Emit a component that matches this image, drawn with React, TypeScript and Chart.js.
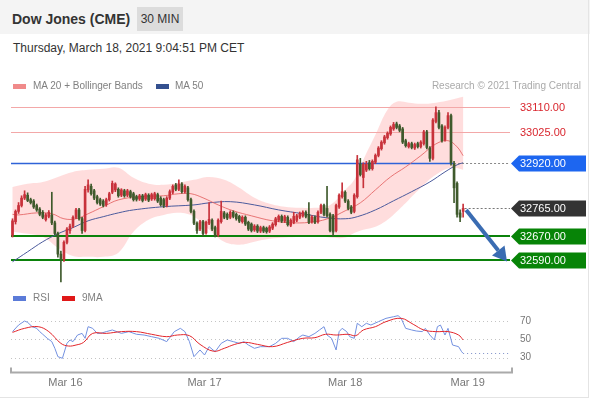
import React, { useEffect, useRef } from 'react';
import { Chart, registerables } from 'chart.js';

Chart.register(...registerables);

const FONT = '"Liberation Sans", Arial, Helvetica, sans-serif';

// 30-minute candles: [open, high, low, close]
const ohlc: [number, number, number, number][] = [
  [32675, 32730, 32668, 32723], [32720, 32760, 32712, 32755], [32755, 32785, 32748, 32775], [32775, 32808, 32770, 32800],
  [32800, 32825, 32795, 32812], [32810, 32818, 32788, 32792], [32795, 32800, 32780, 32785], [32790, 32795, 32765, 32770],
  [32775, 32780, 32755, 32760], [32763, 32768, 32740, 32745], [32752, 32758, 32730, 32735], [32727, 32748, 32722, 32743],
  [32738, 32758, 32733, 32752], [32743, 32820, 32710, 32716], [32716, 32722, 32675, 32680], [32680, 32685, 32600, 32610],
  [32610, 32620, 32516, 32595], [32592, 32655, 32585, 32650], [32650, 32700, 32645, 32695], [32690, 32712, 32680, 32705],
  [32705, 32740, 32700, 32735], [32735, 32765, 32730, 32760], [32760, 32765, 32725, 32730], [32730, 32735, 32680, 32690],
  [32690, 32840, 32685, 32830], [32828, 32862, 32820, 32845], [32840, 32848, 32810, 32815], [32825, 32830, 32795, 32800],
  [32805, 32810, 32780, 32785], [32795, 32800, 32775, 32780], [32790, 32795, 32770, 32775], [32778, 32800, 32772, 32795],
  [32795, 32820, 32790, 32815], [32820, 32858, 32815, 32850], [32828, 32852, 32822, 32848], [32830, 32835, 32803, 32808],
  [32810, 32832, 32805, 32828], [32825, 32830, 32803, 32808], [32810, 32830, 32805, 32825], [32822, 32827, 32800, 32805],
  [32815, 32820, 32790, 32795], [32805, 32810, 32790, 32796], [32797, 32813, 32792, 32808], [32808, 32813, 32787, 32792],
  [32797, 32817, 32792, 32812], [32810, 32815, 32788, 32793], [32797, 32817, 32792, 32812], [32798, 32820, 32793, 32815],
  [32812, 32817, 32785, 32790], [32800, 32805, 32773, 32778], [32795, 32800, 32768, 32775], [32775, 32805, 32770, 32800],
  [32800, 32828, 32795, 32822], [32820, 32845, 32815, 32840], [32845, 32850, 32825, 32830], [32830, 32862, 32825, 32848],
  [32848, 32853, 32817, 32822], [32822, 32845, 32817, 32840], [32835, 32840, 32790, 32795], [32795, 32800, 32750, 32755],
  [32755, 32760, 32710, 32715], [32715, 32720, 32680, 32690], [32695, 32725, 32690, 32720], [32720, 32725, 32672, 32680],
  [32682, 32722, 32678, 32718], [32715, 32785, 32710, 32728], [32725, 32730, 32690, 32695], [32700, 32705, 32668, 32672],
  [32675, 32730, 32670, 32725], [32720, 32790, 32715, 32755], [32750, 32755, 32730, 32735], [32745, 32750, 32727, 32732],
  [32735, 32757, 32730, 32752], [32752, 32757, 32733, 32738], [32745, 32750, 32725, 32730], [32738, 32742, 32717, 32722],
  [32720, 32740, 32715, 32735], [32735, 32740, 32707, 32712], [32718, 32722, 32690, 32695], [32712, 32716, 32685, 32690],
  [32692, 32710, 32687, 32705], [32705, 32710, 32683, 32688], [32688, 32705, 32683, 32700], [32700, 32705, 32683, 32688],
  [32698, 32702, 32681, 32686], [32688, 32707, 32683, 32702], [32698, 32717, 32693, 32712], [32710, 32735, 32705, 32730],
  [32725, 32743, 32720, 32738], [32738, 32743, 32717, 32722], [32722, 32742, 32717, 32737], [32735, 32740, 32705, 32710],
  [32708, 32730, 32703, 32725], [32718, 32752, 32713, 32738], [32725, 32745, 32720, 32740], [32735, 32753, 32730, 32748],
  [32740, 32757, 32735, 32752], [32752, 32757, 32733, 32738], [32745, 32785, 32713, 32718], [32720, 32741, 32715, 32736],
  [32735, 32740, 32713, 32718], [32720, 32757, 32715, 32752], [32752, 32780, 32747, 32775], [32775, 32780, 32740, 32745],
  [32765, 32840, 32735, 32740], [32745, 32750, 32685, 32690], [32740, 32745, 32672, 32685], [32690, 32780, 32685, 32775],
  [32770, 32815, 32765, 32810], [32805, 32852, 32800, 32822], [32820, 32825, 32785, 32790], [32790, 32795, 32760, 32765],
  [32770, 32775, 32747, 32752], [32755, 32815, 32750, 32810], [32805, 32945, 32800, 32930], [32915, 32935, 32875, 32880],
  [32870, 32920, 32835, 32915], [32895, 32925, 32890, 32915], [32920, 32928, 32895, 32900], [32900, 32930, 32895, 32925],
  [32922, 32950, 32917, 32945], [32945, 32975, 32940, 32970], [32968, 32995, 32963, 32990], [32988, 33013, 32983, 33008],
  [33005, 33025, 33000, 33020], [33018, 33045, 33013, 33040], [33035, 33057, 33030, 33050], [33052, 33058, 33035, 33040],
  [33045, 33050, 33025, 33030], [33035, 33040, 32985, 32990], [32995, 33000, 32973, 32978], [32975, 32990, 32970, 32985],
  [32985, 32990, 32967, 32972], [32970, 32987, 32965, 32982], [32985, 32990, 32970, 32975], [32975, 32995, 32970, 32990],
  [32985, 33030, 32980, 33025], [33025, 33030, 32967, 32972], [32970, 32975, 32925, 32935], [32935, 33070, 32930, 33065],
  [33060, 33110, 33055, 33090], [33090, 33098, 33035, 33040], [33045, 33050, 32990, 32995], [32998, 33045, 32993, 33040],
  [33040, 33090, 33035, 33080], [33080, 33085, 32912, 32920], [32915, 32925, 32785, 32835], [32850, 32855, 32735, 32745],
  [32750, 32760, 32720, 32735], [32755, 32780, 32735, 32765],
];

// indicator points: [candle index, value]
const ma20: [number, number][] = [
  [0, 32745], [2, 32743], [8, 32750], [13, 32747], [17, 32730], [21, 32730], [25, 32747], [30, 32771], [35, 32794],
  [42, 32805], [50, 32808], [55, 32815], [59, 32815], [63, 32801], [68, 32777], [73, 32757], [79, 32740], [86, 32723],
  [93, 32716], [100, 32720], [105, 32733], [110, 32757], [115, 32784], [120, 32828], [125, 32872], [130, 32906],
  [135, 32944], [140, 32984], [144, 32995], [147, 32974], [149, 32944],
];
const ma50: [number, number][] = [
  [0, 32584], [5, 32618], [10, 32652], [15, 32679], [20, 32700], [25, 32723], [30, 32737], [35, 32750], [40, 32760],
  [50, 32771], [60, 32777], [65, 32784], [72, 32788], [80, 32777], [88, 32760], [96, 32747], [104, 32733], [110, 32730],
  [114, 32737], [120, 32760], [126, 32791], [132, 32822], [138, 32855], [143, 32889], [147, 32913], [149, 32920],
];
const bbUpper: [number, number][] = [
  [0, 32838], [5, 32849], [10, 32855], [15, 32872], [20, 32889], [25, 32896], [30, 32900], [35, 32903], [40, 32869],
  [45, 32849], [50, 32845], [55, 32852], [60, 32862], [65, 32872], [70, 32862], [75, 32835], [80, 32801], [85, 32781],
  [90, 32771], [95, 32767], [100, 32767], [105, 32777], [110, 32828], [113, 32862], [116, 32930], [120, 33015],
  [124, 33100], [127, 33127], [131, 33124], [135, 33120], [140, 33124], [145, 33134], [149, 33144],
];
const bbLower: [number, number][] = [
  [0, 32686], [5, 32679], [10, 32669], [15, 32632], [20, 32604], [25, 32601], [30, 32601], [35, 32615], [40, 32686],
  [45, 32727], [50, 32743], [55, 32750], [60, 32737], [65, 32693], [70, 32652], [75, 32642], [80, 32652], [85, 32662],
  [90, 32666], [95, 32669], [100, 32672], [105, 32666], [110, 32666], [113, 32682], [116, 32693], [120, 32703],
  [124, 32727], [127, 32754], [131, 32794], [135, 32835], [140, 32879], [145, 32903], [149, 32896],
];
const rsi: [number, number][] = [
  [0, 58.4], [2, 65.6], [4, 70], [5, 68.5], [6.5, 63.8], [8, 62], [9, 58.4], [10, 55.5], [11.5, 51.1], [13, 47.5],
  [14, 40.2], [15, 31.1], [16.5, 29.3], [18, 45.6], [19, 49.3], [20, 47.5], [21.5, 54.7], [23, 56.5], [24, 51.1],
  [25, 63.8], [26.5, 62], [28, 56.5], [29, 56.5], [31, 58.4], [33, 60.2], [36, 56.5], [38.5, 58.4], [41, 55.5],
  [43.5, 54.7], [46, 52.9], [48.5, 51.1], [51, 47.5], [53.5, 58.4], [55.5, 62], [57, 58.4], [58.5, 47.5], [60, 31.1],
  [62, 38.4], [63.5, 32.9], [65, 42], [67, 36.5], [69, 45.6], [71, 49.3], [73, 47.5], [75, 45.6], [76.5, 47.5],
  [78, 43.8], [80, 40.2], [82, 42], [85, 42], [87, 45.6], [89, 51.1], [91, 51.1], [93, 47.5], [95, 52.9], [96, 54.7],
  [98, 52.9], [100, 56.5], [101.5, 60.2], [103, 63.8], [104, 54.7], [105.5, 51.1], [107, 38.4], [108, 58.4], [109, 62],
  [110.5, 58.4], [111.5, 52.9], [113, 51.1], [114, 67.5], [115.5, 63.8], [117, 67.5], [118.5, 65.6], [121, 69.3],
  [123.5, 72.9], [126, 74.7], [127.5, 75.8], [128.5, 72.9], [130, 62], [132, 60.2], [133.5, 59.1], [135.5, 58.4],
  [136.5, 62], [138, 54.7], [139.5, 49.3], [140.5, 63.8], [141.5, 65.6], [143, 54.7], [144, 62], [145.5, 43.8],
  [147.5, 42], [148.5, 36.5], [149, 34.7],
];
const rsi9ma: [number, number][] = [
  [0, 57.6], [4, 62], [8.5, 63.8], [12, 58.4], [16, 45.6], [18.5, 42.7], [21, 43.8], [23.5, 46.7], [26.5, 56.5],
  [31, 56.5], [36, 58.4], [41, 58.4], [46, 55.5], [51, 52.9], [54.5, 54.7], [58.5, 54], [62, 44.5], [66.5, 37],
  [70, 40.2], [73.5, 44.5], [77, 46.7], [81, 44.5], [86, 42], [91, 46.7], [96, 51.1], [100, 51.8], [103.5, 55.5],
  [107, 54.7], [111, 55.5], [113.5, 54], [116, 60.2], [120, 63.8], [123.5, 69.3], [128.5, 72.9], [132.5, 66.4],
  [136, 60.2], [140, 58.4], [144, 58.4], [147.5, 54.7], [149, 49.3],
];

const rsiLevels = [70, 50, 30];
const dayLabels = ['Mar 16', 'Mar 17', 'Mar 18', 'Mar 19'];
const dayPositions = [17.5, 63.5, 110, 150.5];
const levelPrices = [33110, 33025, 32920, 32765, 32670, 32590];
const levelKinds = ['resistance', 'resistance', 'pivot', 'last', 'support', 'support'];
const pivotSolidEnd = 146; // index where the pivot line turns dotted
const arrowFrom: [number, number] = [150, 32760];
const arrowTo: [number, number] = [163.5, 32585];
const slotCount = 165;

const UP = '#c8323b';
const DOWN = '#3f5a2c';
const BAND_FILL = 'rgba(255,95,95,0.21)';

const toPts = (arr: [number, number][]) => arr.map(([x, y]) => ({ x, y }));

function MainChart() {
  const ref = useRef<HTMLCanvasElement>(null);
  useEffect(() => {
    const colors = ohlc.map(([o, , , c]) => (c >= o ? UP : DOWN));
    const bandPlugin = {
      id: 'band',
      beforeDatasetsDraw(chart: any) {
        const { ctx, chartArea } = chart;
        const upL = chart.getDatasetMeta(4).dataset;
        const loL = chart.getDatasetMeta(5).dataset;
        if (!upL || !loL) return;
        upL.updateControlPoints(chartArea, 'x');
        loL.updateControlPoints(chartArea, 'x');
        const up = upL.points, lo = loL.points;
        ctx.save();
        ctx.fillStyle = BAND_FILL;
        ctx.beginPath();
        ctx.moveTo(up[0].x, up[0].y);
        for (let i = 1; i < up.length; i++) {
          ctx.bezierCurveTo(up[i - 1].cp2x, up[i - 1].cp2y, up[i].cp1x, up[i].cp1y, up[i].x, up[i].y);
        }
        ctx.lineTo(lo[lo.length - 1].x, lo[lo.length - 1].y);
        for (let i = lo.length - 1; i > 0; i--) {
          ctx.bezierCurveTo(lo[i].cp1x, lo[i].cp1y, lo[i - 1].cp2x, lo[i - 1].cp2y, lo[i - 1].x, lo[i - 1].y);
        }
        ctx.closePath();
        ctx.fill();
        ctx.restore();
      },
    };
    const levelPlugin = {
      id: 'levels',
      beforeDatasetsDraw(chart: any) {
        const { ctx, chartArea: a, scales } = chart;
        const x = scales.x, y = scales.y;
        ctx.save();
        levelPrices.forEach((p, k) => {
          const kind = levelKinds[k];
          const py = Math.round(y.getPixelForValue(p)) + (kind === 'support' ? 0 : 0.5);
          ctx.setLineDash([]);
          if (kind === 'resistance') {
            ctx.strokeStyle = '#f3a8a8'; ctx.lineWidth = 1;
            ctx.beginPath(); ctx.moveTo(a.left, py); ctx.lineTo(a.right, py); ctx.stroke();
          } else if (kind === 'pivot') {
            const xe = x.getPixelForValue(pivotSolidEnd);
            ctx.strokeStyle = '#2f63d8'; ctx.lineWidth = 1.3;
            ctx.beginPath(); ctx.moveTo(a.left, py); ctx.lineTo(xe, py); ctx.stroke();
            ctx.strokeStyle = '#888'; ctx.lineWidth = 1; ctx.setLineDash([2, 2]);
            ctx.beginPath(); ctx.moveTo(xe, py); ctx.lineTo(a.right, py); ctx.stroke();
          } else if (kind === 'last') {
            const xs = x.getPixelForValue(ohlc.length - 0.5);
            ctx.strokeStyle = '#777'; ctx.lineWidth = 1; ctx.setLineDash([2, 2]);
            ctx.beginPath(); ctx.moveTo(xs, py); ctx.lineTo(a.right, py); ctx.stroke();
          } else {
            ctx.strokeStyle = '#0b820b'; ctx.lineWidth = 2;
            ctx.beginPath(); ctx.moveTo(a.left, py); ctx.lineTo(a.right, py); ctx.stroke();
          }
        });
        ctx.restore();
      },
      afterDatasetsDraw(chart: any) {
        const { ctx, chartArea: a, scales } = chart;
        const x = scales.x, y = scales.y;
        ctx.save();
        const x0 = x.getPixelForValue(arrowFrom[0]), y0 = y.getPixelForValue(arrowFrom[1]);
        const x1 = x.getPixelForValue(arrowTo[0]), y1 = y.getPixelForValue(arrowTo[1]);
        const ang = Math.atan2(y1 - y0, x1 - x0);
        const hl = 14, hw = 8;
        const bx = x1 - hl * Math.cos(ang), by = y1 - hl * Math.sin(ang);
        ctx.strokeStyle = '#3a6cb2'; ctx.fillStyle = '#3a6cb2'; ctx.lineWidth = 4;
        ctx.beginPath(); ctx.moveTo(x0, y0); ctx.lineTo(bx, by); ctx.stroke();
        ctx.beginPath();
        ctx.moveTo(x1, y1);
        ctx.lineTo(bx + hw * Math.sin(ang), by - hw * Math.cos(ang));
        ctx.lineTo(bx - hw * Math.sin(ang), by + hw * Math.cos(ang));
        ctx.closePath(); ctx.fill();
        ctx.font = `11px ${FONT}`;
        ctx.textBaseline = 'middle';
        ctx.textAlign = 'left';
        levelPrices.forEach((p, k) => {
          const kind = levelKinds[k];
          const py = Math.round(y.getPixelForValue(p)) + 0.5;
          const text = p.toFixed(2);
          if (kind === 'resistance') {
            ctx.fillStyle = '#d9262e';
            ctx.fillText(text, a.right + 10, py);
          } else {
            ctx.fillStyle = kind === 'pivot' ? '#1d66f0' : kind === 'last' ? '#333333' : '#078407';
            ctx.beginPath();
            ctx.moveTo(a.right + 1, py);
            ctx.lineTo(a.right + 9, py - 8);
            ctx.lineTo(586, py - 8);
            ctx.lineTo(586, py + 8);
            ctx.lineTo(a.right + 9, py + 8);
            ctx.closePath(); ctx.fill();
            ctx.fillStyle = '#ffffff';
            ctx.fillText(text, a.right + 10, py + 0.5);
          }
        });
        ctx.restore();
      },
    };
    const chart = new Chart(ref.current as HTMLCanvasElement, {
      type: 'bar',
      data: {
        datasets: [
          {
            type: 'bar', data: ohlc.map(([, h, l], i) => ({ x: i, y: [l, h] })) as any,
            backgroundColor: colors, barThickness: 1, grouped: false, order: 1, borderWidth: 0,
          } as any,
          {
            type: 'bar', data: ohlc.map(([o, , , c], i) => ({ x: i, y: [o, c] })) as any,
            backgroundColor: colors, barThickness: 2, grouped: false, order: 0, borderWidth: 0,
          } as any,
          {
            type: 'line', data: toPts(ma20), borderColor: 'rgba(230,105,105,0.9)', borderWidth: 1,
            pointRadius: 0, tension: 0.4, fill: false, order: 2,
          },
          {
            type: 'line', data: toPts(ma50), borderColor: '#4b5a9c', borderWidth: 1,
            pointRadius: 0, tension: 0.4, fill: false, order: 2,
          },
          {
            type: 'line', data: toPts(bbUpper), borderColor: 'rgba(0,0,0,0)', borderWidth: 0,
            pointRadius: 0, tension: 0.4, fill: false, order: 3,
          },
          {
            type: 'line', data: toPts(bbLower), borderColor: 'rgba(0,0,0,0)', borderWidth: 0,
            pointRadius: 0, tension: 0.4, fill: false, order: 3,
          },
        ],
      },
      options: {
        responsive: false,
        animation: false,
        events: [],
        layout: { padding: { left: 11, right: 80, top: 35, bottom: 2 } },
        plugins: { legend: { display: false }, tooltip: { enabled: false } },
        scales: {
          x: { type: 'linear', min: -0.5, max: slotCount - 0.5, display: false, offset: false },
          y: { type: 'linear', min: 32512, max: 33150, display: false },
        },
      } as any,
      plugins: [bandPlugin, levelPlugin],
    });
    return () => chart.destroy();
  }, []);
  return <canvas ref={ref} width={590} height={225} style={{ position: 'absolute', left: 0, top: 60 }} />;
}

function RsiChart() {
  const ref = useRef<HTMLCanvasElement>(null);
  useEffect(() => {
    const rsiPlugin = {
      id: 'rsiDecor',
      beforeDatasetsDraw(chart: any) {
        const { ctx, chartArea: a, scales } = chart;
        const x = scales.x, y = scales.y;
        ctx.save();
        ctx.lineWidth = 1;
        ctx.setLineDash([1, 3]);
        ctx.strokeStyle = '#c4c4c4';
        rsiLevels.forEach((v) => {
          const py = Math.round(y.getPixelForValue(v)) + 0.5;
          ctx.beginPath(); ctx.moveTo(a.left, py); ctx.lineTo(a.right, py); ctx.stroke();
        });
        const last = rsi[rsi.length - 1];
        const ly = Math.round(y.getPixelForValue(last[1])) + 0.5;
        ctx.strokeStyle = '#7d8fc8';
        ctx.beginPath(); ctx.moveTo(x.getPixelForValue(last[0]), ly); ctx.lineTo(a.right, ly); ctx.stroke();
        ctx.restore();
      },
      afterDraw(chart: any) {
        const { ctx, chartArea: a, scales } = chart;
        const x = scales.x, y = scales.y;
        ctx.save();
        ctx.font = `10px ${FONT}`;
        ctx.fillStyle = '#777';
        ctx.textAlign = 'left';
        ctx.textBaseline = 'middle';
        rsiLevels.forEach((v) => ctx.fillText(String(v), a.right + 10, y.getPixelForValue(v)));
        const yb = a.bottom + 7.5;
        ctx.strokeStyle = '#aaaaaa';
        ctx.lineWidth = 2;
        ctx.beginPath();
        ctx.moveTo(a.left, yb - 5); ctx.lineTo(a.left, yb); ctx.lineTo(a.right + 2, yb); ctx.lineTo(a.right + 2, yb - 5);
        ctx.stroke();
        ctx.font = `11px ${FONT}`;
        ctx.textAlign = 'center';
        ctx.fillStyle = '#777';
        dayLabels.forEach((lab, k) => ctx.fillText(lab, x.getPixelForValue(dayPositions[k]), a.bottom + 17.5));
        ctx.restore();
      },
    };
    const chart = new Chart(ref.current as HTMLCanvasElement, {
      type: 'line',
      data: {
        datasets: [
          { data: toPts(rsi9ma), borderColor: '#e3262b', borderWidth: 1, pointRadius: 0, tension: 0.4, fill: false, order: 0 },
          { data: toPts(rsi), borderColor: '#7391e0', borderWidth: 1, pointRadius: 0, tension: 0, fill: false, order: 1 },
        ],
      },
      options: {
        responsive: false,
        animation: false,
        events: [],
        layout: { padding: { left: 11, right: 80, top: 25, bottom: 35 } },
        plugins: { legend: { display: false }, tooltip: { enabled: false } },
        scales: {
          x: { type: 'linear', min: -0.5, max: slotCount - 0.5, display: false },
          y: { type: 'linear', min: 22, max: 82, display: false },
        },
      } as any,
      plugins: [rsiPlugin],
    });
    return () => chart.destroy();
  }, []);
  return <canvas ref={ref} width={590} height={115} style={{ position: 'absolute', left: 0, top: 285 }} />;
}

function Txt(props: { x: number; cy: number; size: number; color: string; bold?: boolean; children: React.ReactNode }) {
  const lh = props.size + 4;
  return (
    <div
      style={{
        position: 'absolute', left: props.x, top: props.cy - lh / 2, lineHeight: `${lh}px`, height: lh,
        fontSize: props.size, color: props.color, fontWeight: props.bold ? 700 : 400, whiteSpace: 'nowrap', fontFamily: FONT,
      }}
    >
      {props.children}
    </div>
  );
}

function Swatch(props: { x: number; cy: number; color: string }) {
  return <div style={{ position: 'absolute', left: props.x, top: props.cy - 2.5, width: 13, height: 5, background: props.color }} />;
}

export default function App() {
  return (
    <div style={{ position: 'absolute', left: 0, top: 0, width: 590, height: 400, background: '#fff', overflow: 'hidden', fontFamily: FONT }}>
      <div style={{ position: 'absolute', left: 0, top: 0, width: 590, height: 34, background: '#f4f4f4' }} />
      <Txt x={12} cy={19} size={14} color="#333" bold>Dow Jones (CME)</Txt>
      <div
        style={{
          position: 'absolute', left: 137, top: 7, width: 46, height: 24, background: '#dcdcdc', color: '#333',
          fontSize: 12, lineHeight: '24px', textAlign: 'center', fontFamily: FONT,
        }}
      >
        30 MIN
      </div>
      <Txt x={13} cy={48} size={12} color="#333">Thursday, March 18, 2021 9:04:51 PM CET</Txt>
      <MainChart />
      <RsiChart />
      <Swatch x={13} cy={86} color="#f08a8a" />
      <Txt x={33} cy={86} size={10} color="#808080">MA 20 + Bollinger Bands</Txt>
      <Swatch x={156} cy={86} color="#34508f" />
      <Txt x={175} cy={86} size={10} color="#808080">MA 50</Txt>
      <div
        style={{
          position: 'absolute', right: 9, top: 79, lineHeight: '14px', fontSize: 10, color: '#aaa', whiteSpace: 'nowrap', fontFamily: FONT,
        }}
      >
        Research © 2021 Trading Central
      </div>
      <Swatch x={13} cy={298} color="#5b7bd8" />
      <Txt x={33} cy={298} size={10} color="#808080">RSI</Txt>
      <Swatch x={62} cy={298} color="#e01818" />
      <Txt x={82} cy={298} size={10} color="#808080">9MA</Txt>
      <div style={{ position: 'absolute', left: 588, top: 0, width: 1, height: 398, background: '#e4e4e4' }} />
      <div style={{ position: 'absolute', left: 0, top: 397, width: 589, height: 1, background: '#e4e4e4' }} />
    </div>
  );
}
